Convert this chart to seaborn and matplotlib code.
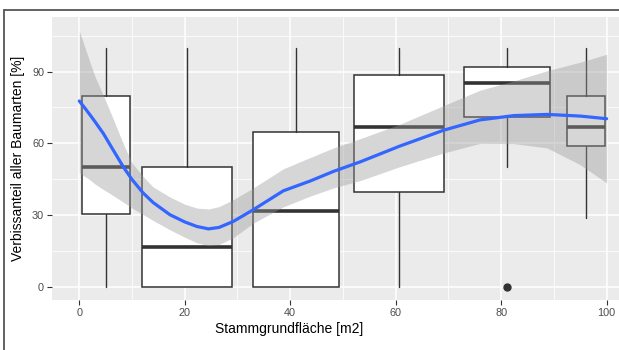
import numpy as np
import pandas as pd
import matplotlib
matplotlib.use("Agg")
import matplotlib.pyplot as plt
from matplotlib.lines import Line2D
import seaborn as sns

# ---- data ----
box_pos = [5.0, 20.5, 41.1, 60.7, 81.2, 96.1]
box_width = [9.1, 17.1, 16.2, 17.1, 16.3, 7.2]
whis_lo = [0.0, 0.0, 0.0, 0.0, 50.2, 28.8]
q1 = [30.6, 0.0, 0.0, 39.9, 71.2, 58.7]
median = [50.2, 16.6, 31.7, 66.8, 85.4, 66.8]
q3 = [79.9, 50.0, 64.7, 88.4, 91.7, 79.8]
whis_hi = [100.0, 100.0, 100.0, 100.0, 100.0, 100.0]
outliers = [[], [], [], [], [0.0], []]

smooth_x = [0, 1, 2, 3, 4.6, 6, 8.4, 10, 12.1, 14, 17.2, 20, 22.3, 24.5, 26.5,
            29.2, 33.0, 38.7, 43.8, 48.2, 53.3, 60.7, 69.1, 76.0, 82.4, 88.7, 95.0, 100]
smooth_y = [77.7, 74.9, 72.0, 69.0, 64.0, 58.8, 50.0, 44.9, 39.3, 35.3, 30.2, 27.2, 25.3, 24.3, 24.9,
            27.4, 32.3, 40.2, 44.3, 48.3, 52.3, 58.8, 65.5, 69.8, 71.6, 72.1, 71.4, 70.3]
ci_upper = [107.0, 100.5, 94.0, 87.8, 79.8, 72.5, 59.5, 51.8, 46.2, 41.8, 37.6, 34.6, 33.0, 32.6, 33.6,
            36.5, 41.4, 49.4, 54.1, 58.1, 62.0, 67.9, 75.8, 82.2, 86.1, 90.3, 93.9, 97.2]
ci_lower = [47.7, 46.3, 44.8, 43.0, 40.7, 38.8, 35.4, 33.0, 30.3, 27.8, 23.9, 20.8, 18.5, 17.3, 17.8,
            20.6, 26.7, 33.5, 38.0, 41.4, 44.5, 50.2, 56.0, 60.0, 59.9, 58.1, 51.1, 43.5]

x_ticks = [0, 20, 40, 60, 80, 100]
y_ticks = [0, 30, 60, 90]
x_label = "Stammgrundfläche [m2]"
y_label = "Verbissanteil aller Baumarten [%]"

# ---- style ----
sns.set_theme(style="darkgrid", rc={
    "axes.facecolor": "#EBEBEB",
    "grid.color": "white",
    "axes.edgecolor": "#EBEBEB",
})
plt.rcParams["font.family"] = ["Liberation Sans", "DejaVu Sans"]

W, H = 619, 350
fig = plt.figure(figsize=(W / 100, H / 100), dpi=100)
fig.patch.set_facecolor("white")

# axes geometry in pixels (panel extends beyond the right edge, as in the crop)
xmin, xmax = -5.1, 105.0
ymin, ymax = -5.4, 112.9
px0 = 79.3 + xmin * 5.273
px1 = 79.3 + xmax * 5.273
py_top, py_bot = 16.7, 300.0
ax = fig.add_axes([px0 / W, (H - py_bot) / H, (px1 - px0) / W, (py_bot - py_top) / H])
ax.set_xlim(xmin, xmax)
ax.set_ylim(ymin, ymax)

# grid
ax.set_xticks(x_ticks)
ax.set_yticks(y_ticks)
ax.set_xticks([10, 30, 50, 70, 90], minor=True)
ax.set_yticks([15, 45, 75, 105], minor=True)
ax.grid(which="major", color="white", linewidth=1.1)
ax.grid(which="minor", color="white", linewidth=0.55)
ax.set_axisbelow(True)
for s in ax.spines.values():
    s.set_visible(False)

# boxplots
stats = []
for i in range(len(box_pos)):
    stats.append(dict(med=median[i], q1=q1[i], q3=q3[i],
                      whislo=whis_lo[i], whishi=whis_hi[i], fliers=outliers[i]))
edge = "#333333"
ax.bxp(stats, positions=box_pos, widths=box_width, patch_artist=True,
       manage_ticks=False, showcaps=False,
       boxprops=dict(facecolor="white", edgecolor=edge, linewidth=1.1),
       whiskerprops=dict(color=edge, linewidth=1.0),
       medianprops=dict(color=edge, linewidth=2.6, solid_capstyle="butt"),
       flierprops=dict(marker="o", markerfacecolor=edge, markeredgecolor=edge,
                       markersize=5),
       zorder=2)

# smooth: confidence band + line
ax.fill_between(smooth_x, ci_lower, ci_upper, color="#999999", alpha=0.4,
                linewidth=0, zorder=3)
df = pd.DataFrame({"x": smooth_x, "y": smooth_y})
sns.lineplot(data=df, x="x", y="y", ax=ax, color="#3366FF", linewidth=2.3,
             zorder=4, sort=False)

# ticks and labels
ax.tick_params(axis="both", which="major", length=3.5, width=0.8, color="#333333",
               labelsize=7.8, labelcolor="#4D4D4D", pad=2.5, bottom=True, left=True)
ax.tick_params(which="minor", length=0)
ax.set_xlabel(x_label, fontsize=10, color="black")
ax.xaxis.set_label_coords((289.5 - px0) / (px1 - px0), -(329 - py_bot) / (py_bot - py_top))
ax.xaxis.label.set_verticalalignment("center")
ax.set_ylabel(y_label, fontsize=10, color="black", labelpad=5)

# figure frame (partially visible in the crop)
fig.add_artist(Line2D([4 / W, 1.0], [1 - 9.7 / H, 1 - 9.7 / H], transform=fig.transFigure,
                      color="#555555", linewidth=1.3))
fig.add_artist(Line2D([4 / W, 4 / W], [0.0, 1 - 9.7 / H], transform=fig.transFigure,
                      color="#555555", linewidth=1.3))

fig.savefig("out.png", dpi=100)
